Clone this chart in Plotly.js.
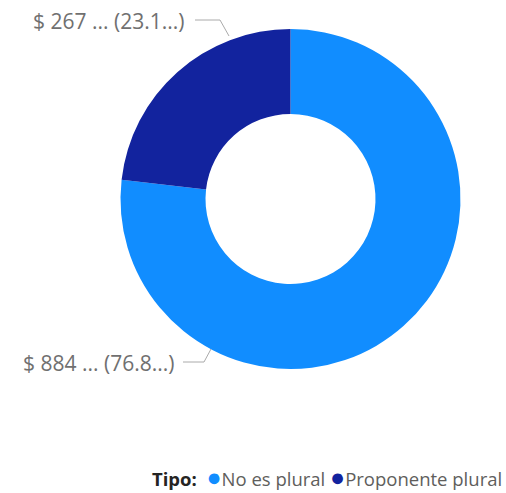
<!DOCTYPE html>
<html>
<head>
<meta charset="utf-8">
<script src="https://cdn.plot.ly/plotly-3.0.1.min.js"></script>
<style>
  html, body { margin: 0; padding: 0; background: #ffffff; }
  #chart { width: 506px; height: 493px; }
</style>
</head>
<body>
<div id="chart"></div>
<script>
// ---- data ----
const categories = ['No es plural', 'Proponente plural'];
const values = [884, 267];
const amountLabels = ['$ 884 ...', '$ 267 ...'];
const percentLabels = ['(76.8...)', '(23.1...)'];
const colors = ['#118DFF', '#12239E'];
const legendTitle = 'Tipo:';

// ---- layout helpers (pixel -> paper) ----
const W = 506, H = 493;
const px = x => x / W;
const py = y => 1 - y / H;

const cx = 290.5, cy = 199, R = 170;

const pie = {
  type: 'pie',
  labels: categories,
  values: values,
  marker: { colors: colors, line: { width: 0 } },
  hole: 0.5,
  sort: false,
  direction: 'clockwise',
  rotation: 0,
  textinfo: 'none',
  hoverinfo: 'label+value+percent',
  showlegend: false,
  domain: { x: [px(cx - R), px(cx + R)], y: [py(cy + R), py(cy - R)] }
};

// label placement (index 0 = bottom-left, index 1 = top-left)
const labelPos = [
  { xr: 176, y: 363, line: [[183, 362], [204, 362], [211, 349]] },
  { xr: 186, y: 21,  line: [[195, 20], [220, 20], [229, 36]] }
];

const annotations = categories.map((c, i) => ({
  xref: 'paper', yref: 'paper',
  x: px(labelPos[i].xr), y: py(labelPos[i].y),
  xanchor: 'right', yanchor: 'middle',
  text: amountLabels[i] + ' ' + percentLabels[i],
  showarrow: false,
  font: { family: 'Open Sans, sans-serif', size: 21, color: '#707070' }
}));

// compact legend (title + coloured dots + category names)
const legendText = '<b><span style="color:#252423">' + legendTitle + '</span></b>  ' +
  categories.map((c, i) =>
    '<span style="color:' + colors[i] + ';font-size:25px">●</span>' + c).join(' ');
annotations.push({
  xref: 'paper', yref: 'paper',
  x: px(504), y: py(476), xanchor: 'right', yanchor: 'middle',
  text: legendText, showarrow: false,
  font: { family: 'Open Sans, sans-serif', size: 18.5, color: '#605E5C' }
});

const shapes = labelPos.map(p => ({
  type: 'path', xref: 'paper', yref: 'paper',
  path: 'M ' + p.line.map(q => px(q[0]) + ',' + py(q[1])).join(' L '),
  line: { color: '#AAAAAA', width: 1 }
}));

const layout = {
  width: W, height: H,
  margin: { l: 0, r: 0, t: 0, b: 0 },
  paper_bgcolor: '#ffffff', plot_bgcolor: '#ffffff',
  showlegend: false,
  annotations: annotations,
  shapes: shapes
};

Plotly.newPlot('chart', [pie], layout, { displayModeBar: false, staticPlot: true });
</script>
</body>
</html>
